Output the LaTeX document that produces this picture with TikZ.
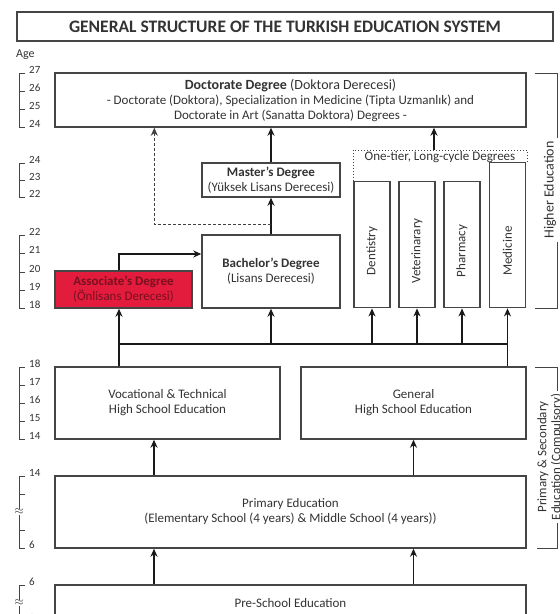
\documentclass[tikz,border=0pt]{standalone}
\usepackage{fontspec}
\setmainfont{Carlito}
\usetikzlibrary{arrows.meta}
\definecolor{edge}{HTML}{454545}
\definecolor{txt}{HTML}{333333}
\definecolor{assocred}{HTML}{E31B3C}
\definecolor{assoctxt}{HTML}{7A1020}

\tikzset{
  box/.style={draw=edge, line width=1.4pt, fill=white, align=center, text=txt,
    font=\fontsize{13}{15}\selectfont, inner sep=2pt},
  arr/.style={line width=1.3pt, draw=black!90, -{Stealth[length=8pt,width=7pt,inset=2.5pt]}},
  agebar/.style={draw=edge, line width=0.9pt},
  agelbl/.style={anchor=base west, font=\fontsize{11}{12}\selectfont, text=txt, inner sep=0pt},
  bracelbl/.style={rotate=90, fill=white, align=center, text=txt, inner sep=3pt}
}

\begin{document}
\begin{tikzpicture}[x=1pt,y=-1pt]
  \useasboundingbox (0,0) rectangle (560,614);
  \node[box, line width=1.2pt, minimum width=536, minimum height=29,
    font=\bfseries\fontsize{17.5}{20}\selectfont] (title) at (285,26.5)
    {GENERAL STRUCTURE OF THE TURKISH EDUCATION SYSTEM};
  \node[anchor=west, text=txt, inner sep=0pt, font=\fontsize{12}{12}\selectfont] (age) at (16,55) {Age};

  % higher education
  \node[box, minimum width=471, minimum height=54] (doc) at (290.5,100)
    {{\fontsize{14}{15}\selectfont\textbf{Doctorate Degree} (Doktora Derecesi)}\\
     - Doctorate (Doktora), Specialization in Medicine (Tipta Uzmanlık) and\\
     Doctorate in Art (Sanatta Doktora) Degrees -};
  \node[box, minimum width=138, minimum height=34] (master) at (271,180)
    {\textbf{Master's Degree}\\(Yüksek Lisans Derecesi)};
  \node[box, minimum width=138, minimum height=73] (bach) at (271,271.5)
    {\textbf{Bachelor's Degree}\\(Lisans Derecesi)};
  \node[box, fill=assocred, text=assoctxt, minimum width=137, minimum height=37] (assoc) at (123.5,289.5)
    {\textbf{Associate's Degree}\\(Önlisans Derecesi)};

  \draw[dotted, draw=edge, line width=1pt] (353,181) |- (527,150) -- (527,162);
  \node[text=txt, font=\fontsize{13}{15}\selectfont, inner sep=0pt] (onetier) at (440,157)
    {One-tier, Long-cycle Degrees};
  \foreach \n/\x/\t/\lab in {dent/372/181/Dentistry,vet/417/181/Veterinarary,
                             pharm/462/181/Pharmacy,med/507.5/162/Medicine} {
    \node[box, anchor=north, minimum width=36, minimum height=307-\t] (\n) at (\x,\t) {};
    \node[rotate=90, text=txt, font=\fontsize{13}{15}\selectfont] (\n-t) at (\x,251) {\lab};
  }

  % secondary, primary, pre-school
  \node[box, minimum width=225, minimum height=72] (voc) at (167.5,403)
    {Vocational \& Technical\\High School Education};
  \node[box, minimum width=225, minimum height=72] (gen) at (413.5,403)
    {General\\High School Education};
  \node[box, minimum width=471, minimum height=72] (prim) at (290.5,512)
    {Primary Education\\(Elementary School (4 years) \& Middle School (4 years))};
  \node[box, minimum width=471, minimum height=36] (pre) at (290.5,603)
    {Pre-School Education};

  % connectors
  \coordinate (busL) at (119,344);
  \coordinate (busR) at (507.5,344);
  \coordinate (ot) at (434,150);
  \coordinate (vi) at ([xshift=-13.5pt]voc.south);
  \draw[line width=1.3pt, draw=black!90] (busL) -- (busR);
  \draw[arr] (voc.north -| busL) -- (assoc.south -| busL);
  \draw[arr] (gen.north -| busR) -- (med.south);
  \foreach \n in {bach,dent,vet,pharm}
    \draw[arr] (busL -| \n.south) -- (\n.south);
  \draw[arr] (assoc.north -| busL) |- ([yshift=17.5pt]bach.west);
  \draw[arr] (bach.north) -- (master.south);
  \draw[arr] (master.north) -- (master.north |- doc.south);
  \draw[arr, draw=black!75, dash pattern=on 3pt off 2pt] ([yshift=10pt]bach.north) -| ([xshift=100pt]doc.south west);
  \draw[arr] (ot) -- (ot |- doc.south);
  \draw[arr] (prim.north -| vi) -- (vi);
  \draw[arr] (prim.north -| gen.south) -- (gen.south);
  \draw[arr] (pre.north -| vi) -- (prim.south -| vi);
  \draw[arr] (pre.north -| gen.south) -- (prim.south -| gen.south);

  % right brackets
  \draw[agebar, line width=1pt] (535,73) -| (557,308) -- (535,308);
  \node[bracelbl, font=\fontsize{14}{15}\selectfont] (higher) at (550,190) {Higher Education};
  \draw[agebar, line width=1pt] (535,367) -| (557,548) -- (537,548);
  \node[bracelbl, font=\fontsize{13}{14}\selectfont] (compul) at (550,457)
    {Primary \& Secondary\\Education (Compulsory)};

  % age scales
  \foreach \yt/\yb in {73/127,163/197,235/308,367/439,476/548,585/621}
    \draw[agebar] (25,\yt) -| (19,\yb) -- (25,\yb);
  \foreach \y in {91,109,180,253,272,290,385,403,421,494,530}
    \draw[agebar] (19,\y) -- (25,\y);
  \foreach \y/\a in {73/27,91/26,109/25,127/24,163/24,180/23,197/22,235/22,253/21,272/20,
                     290/19,308/18,367/18,385/17,403/16,421/15,439/14,476/14,548/6,585/6,621/3}
    \node[agelbl] (a\y) at (29,\y) {\a};
  \foreach \y in {512,603}
    \node[fill=white, inner sep=0.3pt, text=txt, font=\fontsize{12}{12}\selectfont] (w\y) at (19,\y) {$\approx$};
\end{tikzpicture}
\end{document}
